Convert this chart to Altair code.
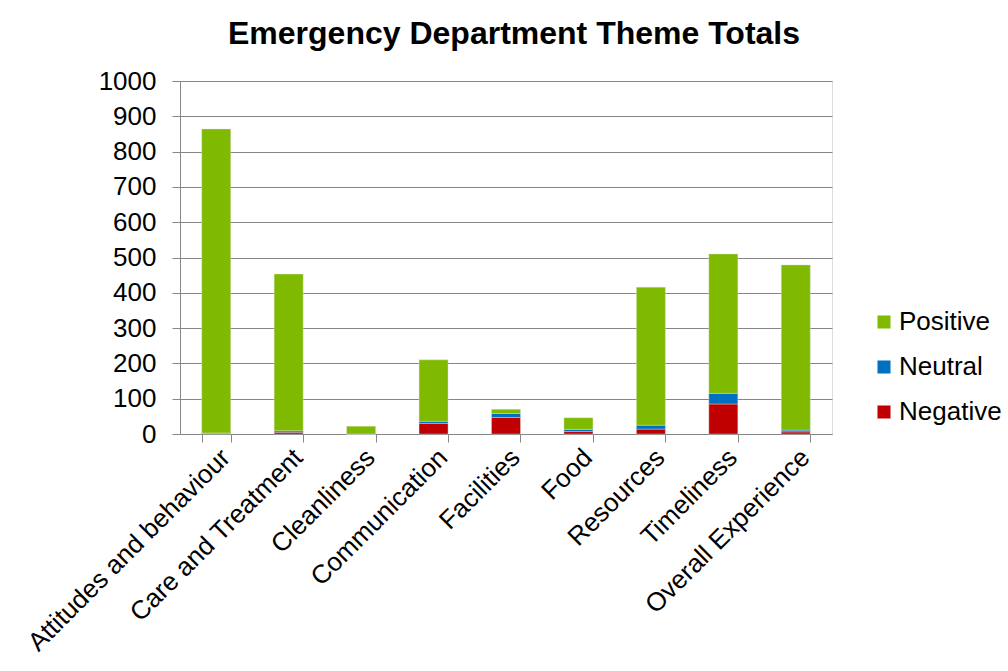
import altair as alt
import pandas as pd

categories = ["Attitudes and behaviour", "Care and Treatment", "Cleanliness", "Communication",
              "Facilities", "Food", "Resources", "Timeliness", "Overall Experience"]
negative = [2, 5, 0, 30, 47, 7, 14, 85, 6]
neutral = [1, 4, 0, 6, 11, 6, 11, 30, 5]
positive = [861, 444, 22, 174, 12, 33, 391, 395, 468]

series = ["Positive", "Neutral", "Negative"]
colors = ["#7FBA00", "#0070C0", "#C00000"]
order_map = {"Negative": 0, "Neutral": 1, "Positive": 2}

rows = []
for i, c in enumerate(categories):
    for s, vals in (("Negative", negative), ("Neutral", neutral), ("Positive", positive)):
        rows.append({"Theme": c, "Sentiment": s, "Count": vals[i], "ord": order_map[s]})
df = pd.DataFrame(rows)

FONT = "Liberation Sans"

chart = alt.Chart(df).mark_bar(size=29, stroke="#e0e0e0", strokeWidth=0.4).encode(
    x=alt.X("Theme:N", sort=categories, title=None,
            scale=alt.Scale(paddingInner=0.6, paddingOuter=0.3),
            axis=alt.Axis(labelAngle=-45, labelFontSize=26, labelColor="black",
                          labelFont=FONT, tickBand="extent", tickSize=8, labelLimit=0,
                          tickColor="#868686", domainColor="#868686", labelPadding=2)),
    y=alt.Y("Count:Q", stack="zero", title=None,
            scale=alt.Scale(domain=[0, 1000]),
            axis=alt.Axis(values=list(range(0, 1001, 100)), format="d", labelFontSize=26,
                          labelColor="black", labelFont=FONT, tickSize=8, tickColor="#868686",
                          domainColor="#868686", gridColor="#868686", gridWidth=1,
                          labelPadding=16)),
    color=alt.Color("Sentiment:N", scale=alt.Scale(domain=series, range=colors),
                    legend=alt.Legend(title=None, orient="none", legendX=691, legendY=228,
                                      labelFontSize=26, labelFont=FONT, labelColor="black",
                                      symbolType="square", symbolSize=170, symbolStrokeWidth=0,
                                      rowPadding=19, labelOffset=2, padding=0)),
    order=alt.Order("ord:Q", sort="ascending"),
).properties(
    width=652, height=353,
    title=alt.TitleParams("Emergency Department Theme Totals", fontSize=32, font=FONT,
                          fontWeight="bold", color="black", anchor="middle", offset=17, dx=8),
    padding={"left": 23, "top": 18, "right": 5, "bottom": 5},
).configure_view(stroke=None).configure(background="white")

chart.save("out.html", embed_options={"renderer": "svg", "actions": False})
